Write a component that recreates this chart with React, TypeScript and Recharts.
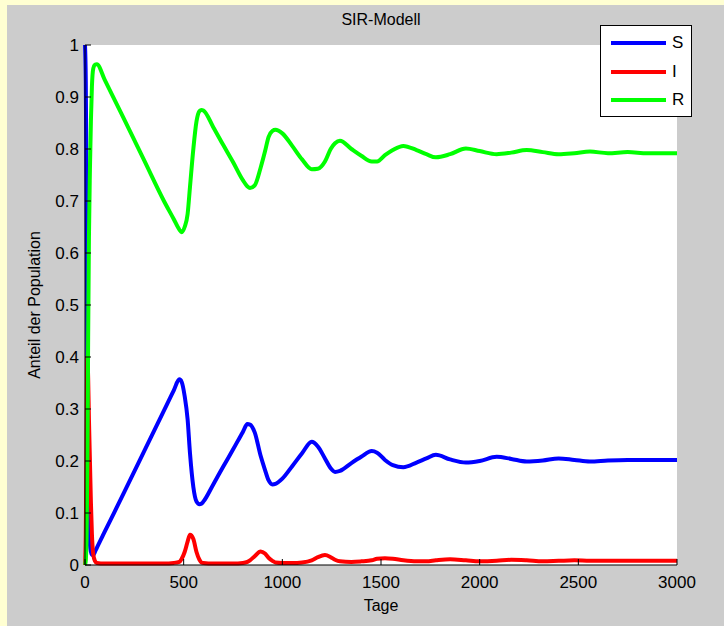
import React from 'react';
import { LineChart, Line, XAxis, YAxis, CartesianGrid, Legend } from 'recharts';

// Zeitpunkte (Tage) und Anteile der drei Kompartimente
const days = [
  0, 4, 8, 12, 16, 20, 25, 30, 35, 42, 50, 60, 100, 200, 300, 400, 450, 478, 490, 505,
  520, 532, 549, 565, 580, 590, 600, 650, 700, 750, 800, 823, 836, 860, 890, 912, 930,
  950, 965, 1000, 1050, 1100, 1149, 1180, 1216, 1245, 1267, 1292, 1350, 1400, 1453,
  1480, 1520, 1560, 1613, 1680, 1730, 1778, 1850, 1930, 2000, 2086, 2160, 2238, 2320,
  2400, 2480, 2559, 2650, 2750, 2850, 3000,
];
const sValues = [
  1.0, 0.93, 0.7, 0.4, 0.2, 0.09, 0.04, 0.025, 0.02, 0.019, 0.025, 0.033, 0.064, 0.141,
  0.219, 0.297, 0.336, 0.357, 0.352, 0.325, 0.28, 0.215, 0.15, 0.122, 0.117, 0.118,
  0.122, 0.155, 0.189, 0.222, 0.256, 0.271, 0.27, 0.255, 0.21, 0.183, 0.163, 0.155,
  0.156, 0.166, 0.19, 0.215, 0.237, 0.228, 0.205, 0.186, 0.179, 0.181, 0.196, 0.208,
  0.219, 0.216, 0.202, 0.192, 0.188, 0.197, 0.205, 0.212, 0.203, 0.197, 0.2, 0.208,
  0.204, 0.199, 0.201, 0.205, 0.202, 0.199, 0.201, 0.202, 0.202, 0.202,
];
const iValues = [
  0.0, 0.06, 0.25, 0.4, 0.36, 0.28, 0.2, 0.12, 0.06, 0.02, 0.008, 0.004, 0.003, 0.003,
  0.003, 0.003, 0.004, 0.006, 0.012, 0.025, 0.045, 0.058, 0.05, 0.025, 0.01, 0.005,
  0.004, 0.003, 0.003, 0.003, 0.004, 0.006, 0.009, 0.017, 0.026, 0.022, 0.014, 0.008,
  0.005, 0.004, 0.004, 0.005, 0.009, 0.015, 0.019, 0.015, 0.01, 0.007, 0.006, 0.007,
  0.009, 0.012, 0.013, 0.012, 0.009, 0.007, 0.007, 0.009, 0.011, 0.009, 0.007, 0.008,
  0.01, 0.009, 0.007, 0.008, 0.009, 0.008, 0.008, 0.008, 0.008, 0.008,
];
const rValues = [
  0.0, 0.01, 0.05, 0.2, 0.44, 0.63, 0.76, 0.855, 0.92, 0.955, 0.962, 0.963, 0.933,
  0.856, 0.778, 0.7, 0.665, 0.645, 0.64, 0.65, 0.675, 0.727, 0.8, 0.853, 0.873, 0.875,
  0.874, 0.842, 0.808, 0.775, 0.74, 0.728, 0.725, 0.73, 0.764, 0.795, 0.823, 0.835,
  0.837, 0.83, 0.806, 0.78, 0.761, 0.762, 0.776, 0.8, 0.811, 0.816, 0.8, 0.787, 0.776,
  0.776, 0.788, 0.798, 0.806, 0.798, 0.79, 0.784, 0.79, 0.801, 0.796, 0.79, 0.793,
  0.798, 0.794, 0.79, 0.792, 0.795, 0.792, 0.794, 0.792, 0.792,
];

const seriesOrder = ['S', 'I', 'R'];
const xTicks = [0, 500, 1000, 1500, 2000, 2500, 3000];
const yTicks = [0, 0.1, 0.2, 0.3, 0.4, 0.5, 0.6, 0.7, 0.8, 0.9, 1];

const data = days.map((t, i) => ({ t, S: sValues[i], I: iValues[i], R: rValues[i] }));

const FONT = '"Liberation Sans", Arial, sans-serif';
const TICK_LEN = 6;
const X_GAP = 11;
const Y_GAP = 6;

const BottomTick = ({ x, y, payload }: any) => (
  <g>
    <line x1={x} y1={y - X_GAP} x2={x} y2={y - X_GAP - TICK_LEN} stroke="#000" />
    <text x={x} y={y} dy="0.71em" textAnchor="middle" fontSize={17} fontFamily={FONT} fill="#000">
      {payload.value}
    </text>
  </g>
);

const LeftTick = ({ x, y, payload }: any) => (
  <g>
    <line x1={x + Y_GAP} y1={y} x2={x + Y_GAP + TICK_LEN} y2={y} stroke="#000" />
    <text x={x} y={y} dy="0.355em" textAnchor="end" fontSize={17} fontFamily={FONT} fill="#000">
      {String(payload.value)}
    </text>
  </g>
);

const TopTick = ({ x, y }: any) => <line x1={x} y1={y} x2={x} y2={y + TICK_LEN} stroke="#000" />;
const RightTick = ({ x, y }: any) => <line x1={x} y1={y} x2={x - TICK_LEN} y2={y} stroke="#000" />;

const renderLegend = ({ payload }: any) => {
  const items = [...(payload || [])].sort(
    (a: any, b: any) => seriesOrder.indexOf(a.value) - seriesOrder.indexOf(b.value)
  );
  return (
    <div style={{ width: 92, height: 92, background: '#fff', border: '1px solid #000', boxSizing: 'border-box', paddingTop: 3 }}>
      {items.map((p: any) => (
        <div key={p.value} style={{ display: 'flex', alignItems: 'center', height: 28.5 }}>
          <svg width={66} height={8}>
            <line x1={10} y1={4} x2={65} y2={4} stroke={p.color} strokeWidth={4} />
          </svg>
          <span style={{ fontFamily: FONT, fontSize: 17, marginLeft: 5 }}>{p.value}</span>
        </div>
      ))}
    </div>
  );
};

export default function App() {
  return (
    <div style={{ position: 'absolute', left: 0, top: 0, width: 724, height: 626, background: '#FFFFD2', overflow: 'hidden' }}>
      <div style={{ position: 'absolute', left: 7, top: 5, width: 717, height: 621, background: '#CCCCCC' }}>
        <LineChart width={717} height={621} data={data} margin={{ top: 40, right: 47, left: 0, bottom: 0 }}>
          <CartesianGrid fill="#fff" horizontal={false} vertical={false} stroke="none" />
          <XAxis
            dataKey="t"
            type="number"
            domain={[0, 3000]}
            ticks={xTicks}
            height={61}
            tickSize={0}
            tickMargin={X_GAP}
            tickLine={false}
            axisLine={{ stroke: '#000' }}
            tick={<BottomTick />}
            interval={0}
          />
          <XAxis
            xAxisId="top"
            orientation="top"
            type="number"
            domain={[0, 3000]}
            ticks={xTicks}
            height={0}
            tickSize={0}
            tickMargin={0}
            tickLine={false}
            axisLine={{ stroke: '#000' }}
            tick={<TopTick />}
            interval={0}
          />
          <YAxis
            type="number"
            domain={[0, 1]}
            ticks={yTicks}
            width={78}
            tickSize={0}
            tickMargin={Y_GAP}
            tickLine={false}
            axisLine={{ stroke: '#000' }}
            tick={<LeftTick />}
            interval={0}
          />
          <YAxis
            yAxisId="right"
            orientation="right"
            type="number"
            domain={[0, 1]}
            ticks={yTicks}
            width={0}
            tickSize={0}
            tickMargin={0}
            tickLine={false}
            axisLine={{ stroke: '#000' }}
            tick={<RightTick />}
            interval={0}
          />
          <Line type="monotone" dataKey="S" name="S" stroke="#0000FF" strokeWidth={4} dot={false} isAnimationActive={false} />
          <Line type="monotone" dataKey="I" name="I" stroke="#FF0000" strokeWidth={4} dot={false} isAnimationActive={false} />
          <Line type="monotone" dataKey="R" name="R" stroke="#00FF00" strokeWidth={4} dot={false} isAnimationActive={false} />
          <Legend
            layout="vertical"
            align="center"
            verticalAlign="middle"
            content={renderLegend}
            wrapperStyle={{ left: 593, top: 20, width: 92, height: 92 }}
          />
        </LineChart>
      </div>
      <div style={{ position: 'absolute', left: 281, top: 11, width: 200, textAlign: 'center', fontFamily: FONT, fontSize: 16, lineHeight: '18px' }}>
        SIR-Modell
      </div>
      <div style={{ position: 'absolute', left: 281, top: 597, width: 200, textAlign: 'center', fontFamily: FONT, fontSize: 16, lineHeight: '18px' }}>
        Tage
      </div>
      <div
        style={{
          position: 'absolute',
          left: 35 - 110,
          top: 305 - 9,
          width: 220,
          textAlign: 'center',
          fontFamily: FONT,
          fontSize: 16,
          lineHeight: '18px',
          transform: 'rotate(-90deg)',
        }}
      >
        Anteil der Population
      </div>
    </div>
  );
}
